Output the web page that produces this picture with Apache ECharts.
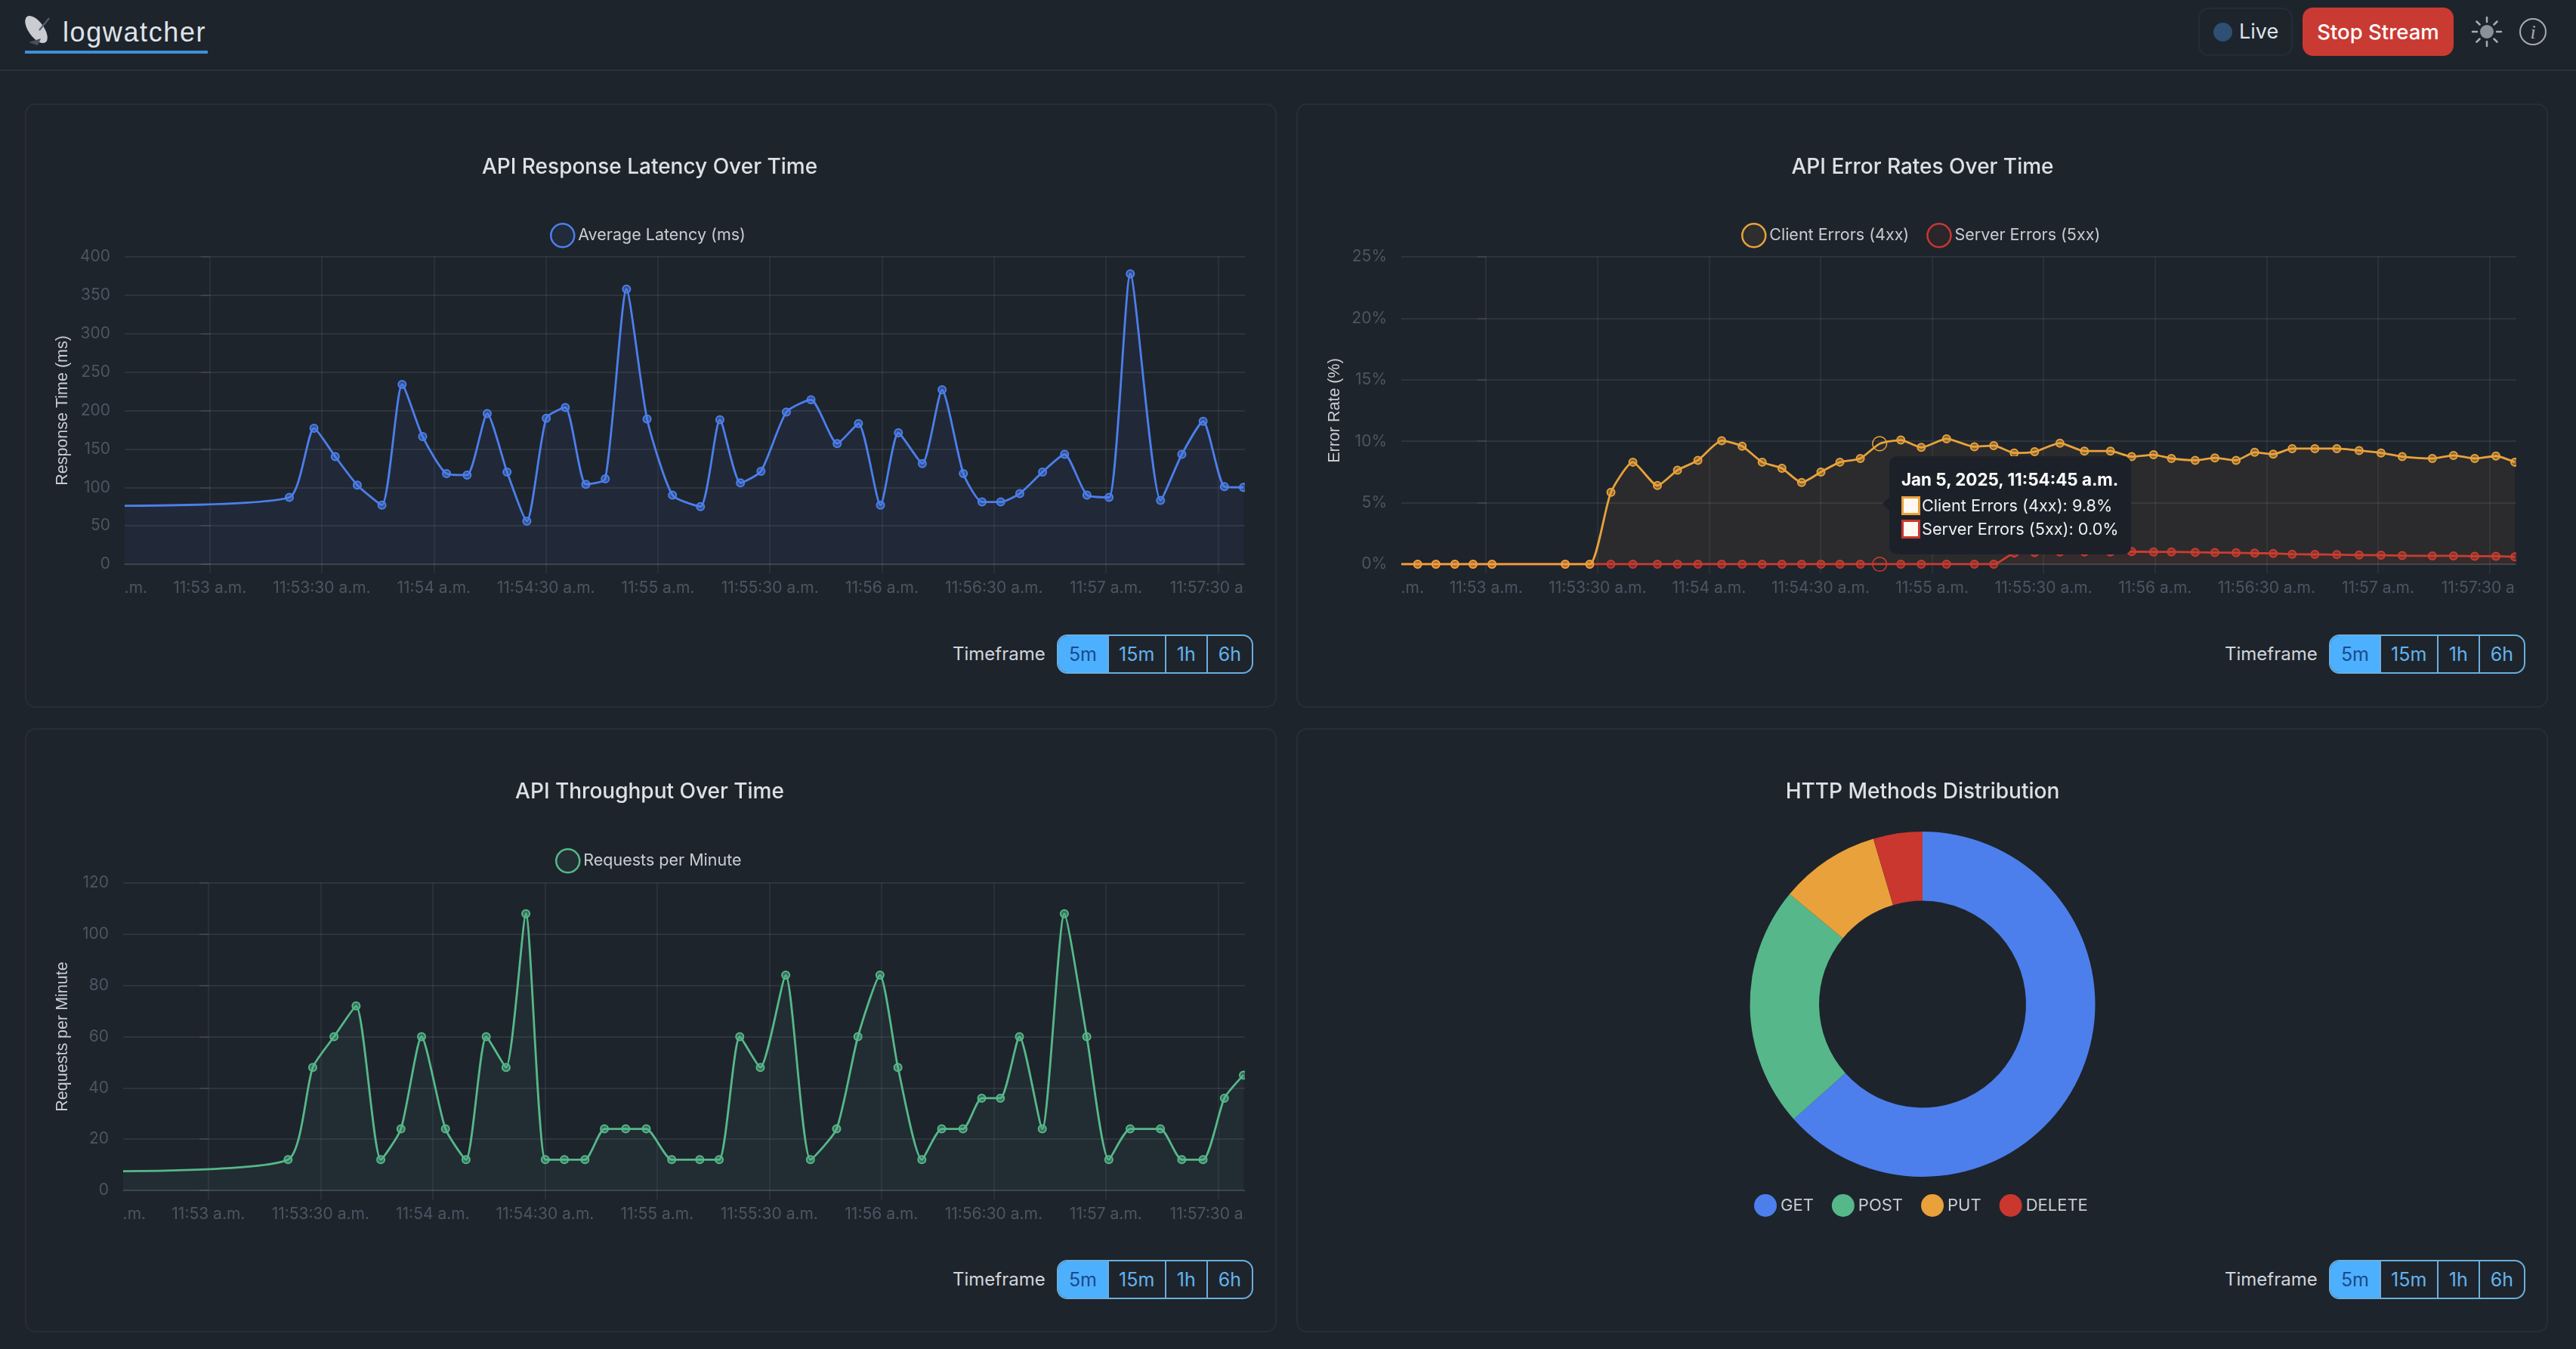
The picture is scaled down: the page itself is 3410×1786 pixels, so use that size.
<!DOCTYPE html>
<html>
<head>
<meta charset="utf-8">
<title>logwatcher</title>
<script src="https://cdn.jsdelivr.net/npm/echarts@6/dist/echarts.min.js"></script>
<style>
html, body { margin: 0; padding: 0; width: 3410px; height: 1786px; background: #1e242c; overflow: hidden; font-family: Inter, sans-serif; }
.abs { position: absolute; box-sizing: border-box; }
.headerLine { left: 0; top: 92px; width: 3410px; height: 2px; background: #2a313a; }
.brand { left: 83px; top: 19px; font: 36px/48px "Liberation Sans", sans-serif; letter-spacing: 1.6px; color: #dfe3e8; }
.brandLine { left: 33px; top: 67px; width: 242px; height: 4px; background: #3f8fd8; }
.live { left: 2910px; top: 10px; width: 125px; height: 64px; border: 2px solid #252c35; border-radius: 14px; color: #dfe3e8; font-size: 27px; line-height: 60px; padding-left: 52px; }
.liveDot { left: 2930px; top: 30px; width: 25px; height: 25px; border-radius: 50%; background: #2f4f74; }
.stop { left: 3048px; top: 10px; width: 200px; height: 64px; border-radius: 14px; background: #c93a32; color: #fff; font-size: 27.5px; font-weight: 500; line-height: 64px; text-align: center; }
.panel { border: 2px solid #272e37; border-radius: 14px; }
.chart { position: absolute; }
.tfLabel { font-size: 24px; line-height: 52px; color: #d0d5da; }
.tf { display: flex; height: 52px; border: 2px solid #6aaedd; border-radius: 14px; overflow: hidden; font-size: 25px; line-height: 48px; color: #63b3ed; width: 260px; }
.tf div { text-align: center; border-left: 2px solid #6aaedd; }
.tf div:first-child { border-left: 0; background: #4db0ff; color: #1a4a8a; width: 67px; }
.tf div:nth-child(2) { width: 76px; }
.tf div:nth-child(3) { width: 55px; }
.tf div:nth-child(4) { width: 60px; }
</style>
</head>
<body>
<div class="abs headerLine"></div>
<svg class="abs" style="left:30px;top:18px" width="44" height="44" viewBox="0 0 44 44">
  <ellipse cx="18" cy="21" rx="10" ry="21" transform="rotate(-36 18 21)" fill="#c9ccd0"/>
  <path d="M22 22 L35 6" stroke="#5a6068" stroke-width="2"/>
  <path d="M8 38 L24 33 L20 42 Z" fill="#4a5058"/>
</svg>
<div class="abs brand">logwatcher</div>
<div class="abs brandLine"></div>
<div class="abs live">Live</div>
<div class="abs liveDot"></div>
<div class="abs stop">Stop Stream</div>
<svg class="abs" style="left:3270px;top:20px" width="44" height="44" viewBox="0 0 44 44">
  <circle cx="22" cy="22" r="9" fill="#8a9199"/>
  <g stroke="#a6acb3" stroke-width="2.5" stroke-linecap="round">
    <path d="M22 3V9M22 35V41M3 22H9M35 22H41M8.5 8.5L12.5 12.5M31.5 31.5L35.5 35.5M8.5 35.5L12.5 31.5M31.5 12.5L35.5 8.5"/>
  </g>
</svg>
<svg class="abs" style="left:3333px;top:22px" width="40" height="40" viewBox="0 0 40 40">
  <circle cx="20" cy="20" r="17" fill="none" stroke="#a6acb3" stroke-width="2"/>
  <text x="20" y="29" text-anchor="middle" font-family="Liberation Serif" font-style="italic" font-size="26" fill="#a6acb3">i</text>
</svg>

<div class="abs panel" style="left:33px;top:137px;width:1657px;height:800px"></div>
<div class="abs panel" style="left:1716px;top:137px;width:1657px;height:800px"></div>
<div class="abs panel" style="left:33px;top:964px;width:1657px;height:800px"></div>
<div class="abs panel" style="left:1716px;top:964px;width:1657px;height:800px"></div>

<div class="chart" id="latencyChart" style="left:33px;top:137px;width:1615px;height:680px"></div>
<div class="chart" id="errorChart" style="left:1716px;top:137px;width:1615px;height:680px"></div>
<div class="chart" id="throughputChart" style="left:33px;top:964px;width:1615px;height:680px"></div>
<div class="chart" id="methodChart" style="left:1716px;top:964px;width:1657px;height:680px"></div>

<div class="abs tfLabel" style="left:1261px;top:840px">Timeframe</div>
<div class="abs tf" style="left:1399px;top:840px"><div>5m</div><div>15m</div><div>1h</div><div>6h</div></div>
<div class="abs tfLabel" style="left:2945px;top:840px">Timeframe</div>
<div class="abs tf" style="left:3083px;top:840px"><div>5m</div><div>15m</div><div>1h</div><div>6h</div></div>
<div class="abs tfLabel" style="left:1261px;top:1668px">Timeframe</div>
<div class="abs tf" style="left:1399px;top:1668px"><div>5m</div><div>15m</div><div>1h</div><div>6h</div></div>
<div class="abs tfLabel" style="left:2945px;top:1668px">Timeframe</div>
<div class="abs tf" style="left:3083px;top:1668px"><div>5m</div><div>15m</div><div>1h</div><div>6h</div></div>

<script>
// x values are seconds after 11:53:00
var windowStart = -22.8
var windowEnd = 277.2
var streamSeconds = [21.3, 27.9, 33.6, 39.5, 46.1, 51.5, 57.0, 63.4, 68.9, 74.3,
    79.6, 84.9, 90.1, 95.2, 100.7, 105.9, 111.6, 117.1, 123.9, 131.4,
    136.6, 142.1, 147.6, 154.4, 161.0, 168.0, 173.7, 179.6, 184.4, 190.8,
    196.1, 201.8, 206.8, 211.8, 216.9, 223.0, 228.9, 234.9, 240.8, 246.5,
    254.6, 260.3, 266.0, 271.7, 276.8]
var earlyErrorSeconds = [-18.4, -13.5, -8.4, -3.5, 1.6]

var latencyLead = 76
var latencyValues = [87, 177, 140, 103, 77, 234, 166, 118, 116, 196,
    120, 56, 190, 204, 104, 111, 358, 189, 90, 75,
    188, 106, 121, 198, 214, 157, 183, 77, 171, 131,
    227, 118, 81, 81, 92, 120, 143, 90, 87, 378,
    83, 143, 186, 101, 100]

var throughputLead = 7.5
var throughputValues = [12, 48, 60, 72, 12, 24, 60, 24, 12, 60,
    48, 108, 12, 12, 12, 24, 24, 24, 12, 12,
    12, 60, 48, 84, 12, 24, 60, 84, 48, 12,
    24, 24, 36, 36, 60, 24, 108, 60, 12, 24,
    24, 12, 12, 36, 45]

var clientEarly = [0, 0, 0, 0, 0]
var clientValues = [0, 0, 5.85, 8.3, 6.4, 7.65, 8.45, 10.05, 9.6, 8.3,
    7.8, 6.65, 7.5, 8.3, 8.6, 9.8, 10.1, 9.5, 10.2, 9.55,
    9.65, 9.05, 9.15, 9.85, 9.2, 9.2, 8.75, 8.9, 8.6, 8.45,
    8.65, 8.45, 9.1, 8.95, 9.4, 9.4, 9.4, 9.25, 9.05, 8.75,
    8.6, 8.85, 8.6, 8.8, 8.3]
var serverEarly = [0, 0, 0, 0, 0]
var serverValues = [0, 0, 0, 0, 0, 0, 0, 0, 0, 0,
    0, 0, 0, 0, 0, 0, 0, 0, 0, 0,
    0, 0.9, 0.95, 1, 1, 1, 1.03, 1, 1, 0.97,
    0.95, 0.93, 0.9, 0.88, 0.82, 0.8, 0.78, 0.75, 0.73, 0.7,
    0.68, 0.68, 0.65, 0.65, 0.6]
var hoverStreamIndex = 15

var methodNames = ['GET', 'POST', 'PUT', 'DELETE']
var methodValues = [63.4, 22.6, 9.4, 4.6]

var xTickSeconds = [0, 30, 60, 90, 120, 150, 180, 210, 240, 270]
var xLabelSeconds = [-19.8, 0, 30, 60, 90, 120, 150, 180, 210, 240, 270]
var xLabels = ['.m.', '11:53 a.m.', '11:53:30 a.m.', '11:54 a.m.', '11:54:30 a.m.', '11:55 a.m.',
    '11:55:30 a.m.', '11:56 a.m.', '11:56:30 a.m.', '11:57 a.m.', '11:57:30 a.m.']

var BLUE = '#4c7fec'
var GREEN = '#56b88a'
var ORANGE = '#e9a23b'
var RED = '#c9372f'
var FONT = 'Inter'
var GRID = 'rgba(255,255,255,0.075)'
var TICK_TEXT = '#4d5563'

function fade(hex, alpha) {
    var r = parseInt(hex.substr(1, 2), 16)
    var g = parseInt(hex.substr(3, 2), 16)
    var b = parseInt(hex.substr(5, 2), 16)
    return 'rgba(' + r + ',' + g + ',' + b + ',' + alpha + ')'
}

function timeAxis() {
    return {
        type: 'value',
        min: windowStart,
        max: windowEnd,
        axisLine: { show: true, lineStyle: { color: GRID, width: 2 } },
        axisTick: { show: true, length: 12, lineStyle: { color: GRID, width: 1.5 }, customValues: xTickSeconds },
        splitLine: { show: true, lineStyle: { color: GRID, width: 1.5 } },
        axisLabel: {
            customValues: xLabelSeconds,
            color: TICK_TEXT,
            fontFamily: FONT,
            fontSize: 21,
            margin: 21,
            hideOverlap: false,
            formatter: function (value) {
                return xLabels[xLabelSeconds.indexOf(value)]
            }
        }
    }
}

function valueAxis(name, max, interval, gap, unit) {
    return {
        type: 'value',
        min: 0,
        max: max,
        interval: interval,
        name: name,
        nameLocation: 'middle',
        nameRotate: 90,
        nameGap: gap,
        nameTextStyle: { color: '#c8cdd3', fontFamily: 'Liberation Sans', fontSize: 21.5 },
        axisLine: { show: false },
        axisTick: { show: true, length: 12, lineStyle: { color: GRID, width: 2 } },
        splitLine: { lineStyle: { color: GRID, width: 2 } },
        axisLabel: { color: TICK_TEXT, fontFamily: FONT, fontSize: 21, margin: 19, formatter: '{value}' + unit }
    }
}

function lineSeries(name, color, seconds, values, z, hoverIndex, noSymbolIndex) {
    var data = []
    for (let i = 0; i < values.length; i++) {
        var item = { value: [seconds[i], values[i]] }
        if (i === noSymbolIndex) {
            item.symbolSize = 0
        }
        if (i === hoverIndex) {
            item.symbolSize = 17
            item.itemStyle = { color: 'rgba(0,0,0,0)', borderColor: color, borderWidth: 1.5 }
        }
        data.push(item)
    }
    return {
        name: name,
        type: 'line',
        z: z,
        smooth: 0.2,
        symbol: 'circle',
        symbolSize: 10,
        showAllSymbol: true,
        lineStyle: { color: color, width: 2.8 },
        itemStyle: { color: fade(color, 0.5), borderColor: color, borderWidth: 2 },
        areaStyle: { color: fade(color, 0.09), origin: 'start' },
        emphasis: { disabled: true },
        data: data
    }
}

function titleOf(text, centerX) {
    return {
        text: text,
        left: centerX,
        top: 71,
        padding: 0,
        textAlign: 'center',
        textStyle: { color: '#dde1e6', fontFamily: FONT, fontSize: 28, fontWeight: 500 }
    }
}

function legendOf(names, colors, left, top) {
    return {
        data: names.map(function (name, i) {
            return { name: name, itemStyle: { color: fade(colors[i], 0.08), borderColor: colors[i], borderWidth: 2.5 } }
        }),
        left: left,
        top: top,
        padding: 0,
        icon: 'circle',
        itemWidth: 31,
        itemHeight: 31,
        itemGap: 23,
        textStyle: { color: '#c8cdd3', fontFamily: FONT, fontSize: 21.5 }
    }
}

// latency
var latencyChart = echarts.init(document.getElementById('latencyChart'))
latencyChart.setOption({
    animation: false,
    title: titleOf('API Response Latency Over Time', 827),
    legend: legendOf(['Average Latency (ms)'], [BLUE], 695, 158),
    grid: { left: 132, right: 0, top: 203, height: 407, outerBoundsMode: 'none' },
    xAxis: timeAxis(),
    yAxis: valueAxis('Response Time (ms)', 400, 50, 71, ''),
    series: [lineSeries('Average Latency (ms)', BLUE, [windowStart].concat(streamSeconds),
        [latencyLead].concat(latencyValues), 2, -1, 0)]
})

// error rates
var errorSeconds = [windowStart].concat(earlyErrorSeconds, streamSeconds)
var hoverIndex = 1 + earlyErrorSeconds.length + hoverStreamIndex
var errorChart = echarts.init(document.getElementById('errorChart'))
errorChart.setOption({
    animation: false,
    title: titleOf('API Error Rates Over Time', 829),
    legend: legendOf(['Client Errors (4xx)', 'Server Errors (5xx)'], [ORANGE, RED], 589, 158),
    grid: { left: 139, right: 0, top: 203, height: 407, outerBoundsMode: 'none' },
    xAxis: timeAxis(),
    yAxis: valueAxis('Error Rate (%)', 25, 5, 74, '%'),
    tooltip: {
        trigger: 'axis',
        alwaysShowContent: true,
        transitionDuration: 0,
        axisPointer: { type: 'none' },
        backgroundColor: '#1c2129',
        borderWidth: 0,
        padding: [16, 16],
        extraCssText: 'border-radius:10px;box-shadow:none;width:320px;height:130px;box-sizing:border-box;',
        position: function () {
            return [785, 467]
        },
        formatter: function () {
            var swatch = function (color) {
                return '<span style="display:inline-block;width:25px;height:25px;box-sizing:border-box;background:#fff8f0;border:3px solid ' + color + ';vertical-align:-5px;margin-right:2px"></span>'
            }
            return '<div style="position:absolute;left:-9px;top:54px;width:0;height:0;border:9px solid transparent;border-left:0;border-right-color:#1c2129"></div>'
                + '<div style="font:700 22.4px/30px Inter;color:#fff;margin-bottom:4px">Jan 5, 2025, 11:54:45 a.m.</div>'
                + '<div style="font:400 21.7px/31px Inter;color:#eef0f2">' + swatch(ORANGE) + 'Client Errors (4xx): ' + clientValues[hoverStreamIndex].toFixed(1) + '%</div>'
                + '<div style="font:400 21.7px/31px Inter;color:#eef0f2">' + swatch(RED) + 'Server Errors (5xx): ' + serverValues[hoverStreamIndex].toFixed(1) + '%</div>'
        }
    },
    series: [
        lineSeries('Client Errors (4xx)', ORANGE, errorSeconds, [0].concat(clientEarly, clientValues), 3, hoverIndex, 0),
        lineSeries('Server Errors (5xx)', RED, errorSeconds, [0].concat(serverEarly, serverValues), 2, hoverIndex, 0)
    ]
})
errorChart.dispatchAction({ type: 'showTip', seriesIndex: 0, dataIndex: hoverIndex })

// throughput
var throughputChart = echarts.init(document.getElementById('throughputChart'))
throughputChart.setOption({
    animation: false,
    title: titleOf('API Throughput Over Time', 827),
    legend: legendOf(['Requests per Minute'], [GREEN], 702, 159),
    grid: { left: 130, right: 0, top: 205, height: 407, outerBoundsMode: 'none' },
    xAxis: timeAxis(),
    yAxis: valueAxis('Requests per Minute', 120, 20, 69, ''),
    series: [lineSeries('Requests per Minute', GREEN, [windowStart].concat(streamSeconds),
        [throughputLead].concat(throughputValues), 2, -1, 0)]
})

// http methods
var methodColors = [BLUE, GREEN, ORANGE, RED]
var methodChart = echarts.init(document.getElementById('methodChart'))
methodChart.setOption({
    animation: false,
    color: methodColors,
    title: titleOf('HTTP Methods Distribution', 829),
    legend: {
        data: methodNames,
        left: 606,
        top: 617,
        padding: 0,
        icon: 'circle',
        itemWidth: 30,
        itemHeight: 30,
        itemGap: 24,
        textStyle: { color: '#c8cdd3', fontFamily: FONT, fontSize: 22 }
    },
    series: [{
        type: 'pie',
        center: [829, 365.5],
        radius: [137, 228.5],
        startAngle: 90,
        clockwise: true,
        label: { show: false },
        labelLine: { show: false },
        emphasis: { disabled: true },
        data: methodNames.map(function (name, i) {
            return { name: name, value: methodValues[i] }
        })
    }]
})
</script>
</body>
</html>
